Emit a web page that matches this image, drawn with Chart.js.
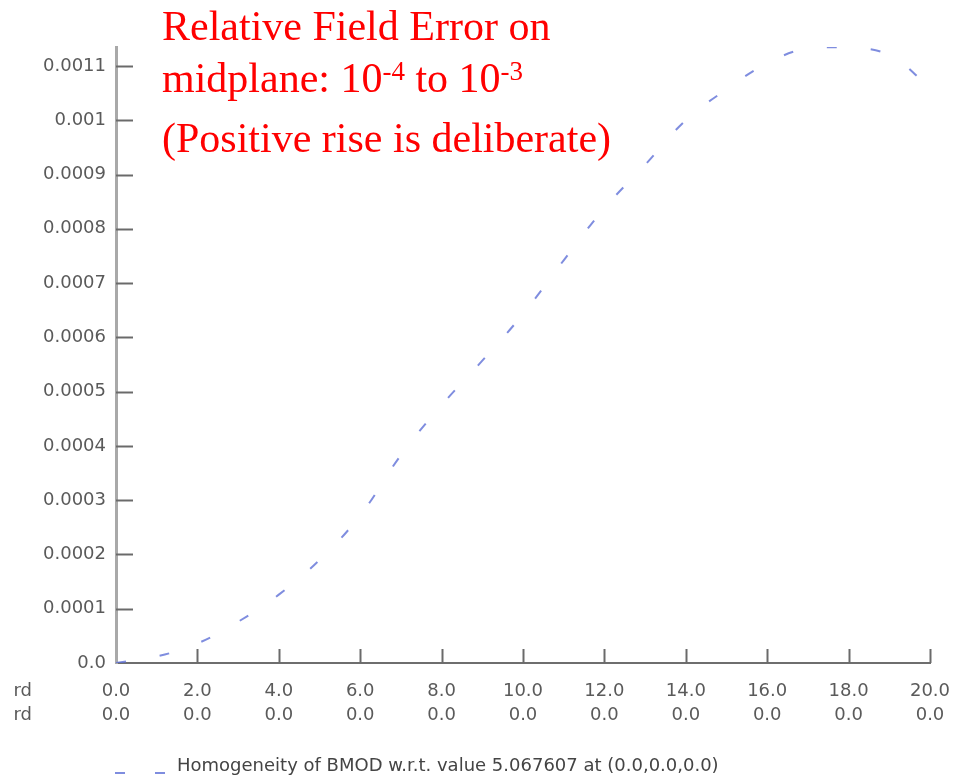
<!DOCTYPE html>
<html>
<head>
<meta charset="utf-8">
<script src="https://cdn.jsdelivr.net/npm/chart.js@4"></script>
<style>
  html, body { margin: 0; padding: 0; background: #fff; }
  #wrap { width: 978px; height: 780px; }
</style>
</head>
<body>
<div id="wrap"><canvas id="homChart" width="978" height="780"></canvas></div>
<script>
// positions along the line (first coordinate)
const positions = [0, 1, 2, 3, 4, 5, 6, 7, 8, 9, 10, 11, 12, 13, 14, 15, 16, 17, 18, 19, 20];
// relative deviation of BMOD
const homogeneity = [0, 0.000012, 0.000036, 0.000076, 0.000126, 0.00019, 0.000272, 0.000383,
  0.000475, 0.000557, 0.000643, 0.000742, 0.000838, 0.000918, 0.001, 0.001057, 0.001105,
  0.001133, 0.001134, 0.00112, 0.00106];
const xTicks = [0, 2, 4, 6, 8, 10, 12, 14, 16, 18, 20];
const yTicks = [0, 0.0001, 0.0002, 0.0003, 0.0004, 0.0005, 0.0006, 0.0007, 0.0008, 0.0009, 0.001, 0.0011];
const secondCoord = ['0.0', '0.0', '0.0', '0.0', '0.0', '0.0', '0.0', '0.0', '0.0', '0.0', '0.0'];
const legendText = 'Homogeneity of BMOD w.r.t. value 5.067607 at (0.0,0.0,0.0)';
const noteLines = ['Relative Field Error on', '(Positive rise is deliberate)'];

const lineColor = 'rgba(95,112,215,0.8)';
const sansFamily = '"DejaVu Sans", Verdana, sans-serif';
const labelFont = '18px ' + sansFamily;

// small inward tick marks, red note, clipped row captions and legend
const decorations = {
    id: 'decorations',
    afterDraw(chart) {
        const ctx = chart.ctx;
        const xs = chart.scales.x, ys = chart.scales.y;
        ctx.save();

        // ticks on the y axis, pointing into the plot
        ctx.strokeStyle = '#6a6a6a';
        ctx.lineWidth = 2;
        yTicks.slice(1).forEach(v => {
            const py = Math.round(ys.getPixelForValue(v)) + 0.5;
            ctx.beginPath();
            ctx.moveTo(xs.left, py);
            ctx.lineTo(xs.left + 17, py);
            ctx.stroke();
        });
        // ticks on the x axis
        xTicks.slice(1).forEach(v => {
            const px = Math.round(xs.getPixelForValue(v)) + 0.5;
            ctx.beginPath();
            ctx.moveTo(px, ys.bottom);
            ctx.lineTo(px, ys.bottom - 14);
            ctx.stroke();
        });

        // row captions, cut off at the left edge
        ctx.fillStyle = '#5a5a5a';
        ctx.font = labelFont;
        ctx.textAlign = 'right';
        ctx.textBaseline = 'middle';
        ctx.fillText('rd', 32, 691);
        ctx.fillText('rd', 32, 715);

        // legend
        ctx.strokeStyle = lineColor;
        ctx.lineWidth = 2;
        ctx.beginPath();
        ctx.moveTo(115, 773); ctx.lineTo(125, 773);
        ctx.moveTo(155, 773); ctx.lineTo(165, 773);
        ctx.stroke();
        ctx.fillStyle = '#444';
        ctx.textAlign = 'left';
        ctx.fillText(legendText, 177, 766);

        // red note
        ctx.fillStyle = '#ff0000';
        ctx.textBaseline = 'alphabetic';
        const big = '42px "Liberation Serif", "Times New Roman", serif';
        const small = '27px "Liberation Serif", "Times New Roman", serif';
        ctx.font = big;
        ctx.fillText(noteLines[0], 162, 40);
        ctx.fillText(noteLines[1], 162, 152);
        let x = 162;
        const parts = [['midplane: 10', big, 0], ['-4', small, -12], [' to 10', big, 0], ['-3', small, -12]];
        parts.forEach(p => {
            ctx.font = p[1];
            ctx.fillText(p[0], x, 92 + p[2]);
            x += ctx.measureText(p[0]).width;
        });
        ctx.restore();
    }
};

const ctx = document.getElementById('homChart').getContext('2d');
const homChart = new Chart(ctx, {
    type: 'line',
    data: {
        datasets: [{
            label: legendText,
            data: positions.map((p, i) => ({ x: p, y: homogeneity[i] })),
            borderColor: lineColor,
            borderWidth: 2,
            borderDash: [10, 34],
            pointRadius: 0,
            tension: 0.4,
            fill: false
        }]
    },
    options: {
        responsive: false,
        animation: false,
        layout: { padding: { left: 0, top: 47, right: 48, bottom: 57 } },
        plugins: {
            legend: { display: false },
            tooltip: { enabled: false }
        },
        scales: {
            x: {
                type: 'linear',
                min: 0,
                max: 20,
                afterFit(scale) { scale.height = 60; },
                afterBuildTicks(scale) { scale.ticks = xTicks.map(v => ({ value: v })); },
                grid: { display: false, drawTicks: false },
                border: { display: true, color: '#6e6e6e', width: 2 },
                ticks: {
                    padding: 16,
                    color: '#5a5a5a',
                    maxRotation: 0,
                    autoSkip: false,
                    font: { family: sansFamily, size: 18, lineHeight: 1.333 },
                    callback: (v, i) => [v.toFixed(1), secondCoord[i]]
                }
            },
            y: {
                type: 'linear',
                min: 0,
                max: 0.001135,
                afterFit(scale) { scale.width = 116; },
                afterBuildTicks(scale) { scale.ticks = yTicks.map(v => ({ value: v })); },
                grid: { display: false, drawTicks: false },
                border: { display: true, color: '#a9a9a9', width: 3 },
                ticks: {
                    padding: 10,
                    color: '#5a5a5a',
                    autoSkip: false,
                    font: { family: sansFamily, size: 18 },
                    callback: v => v === 0 ? '0.0' : String(parseFloat(v.toPrecision(2)))
                }
            }
        }
    },
    plugins: [decorations]
});
</script>
</body>
</html>
